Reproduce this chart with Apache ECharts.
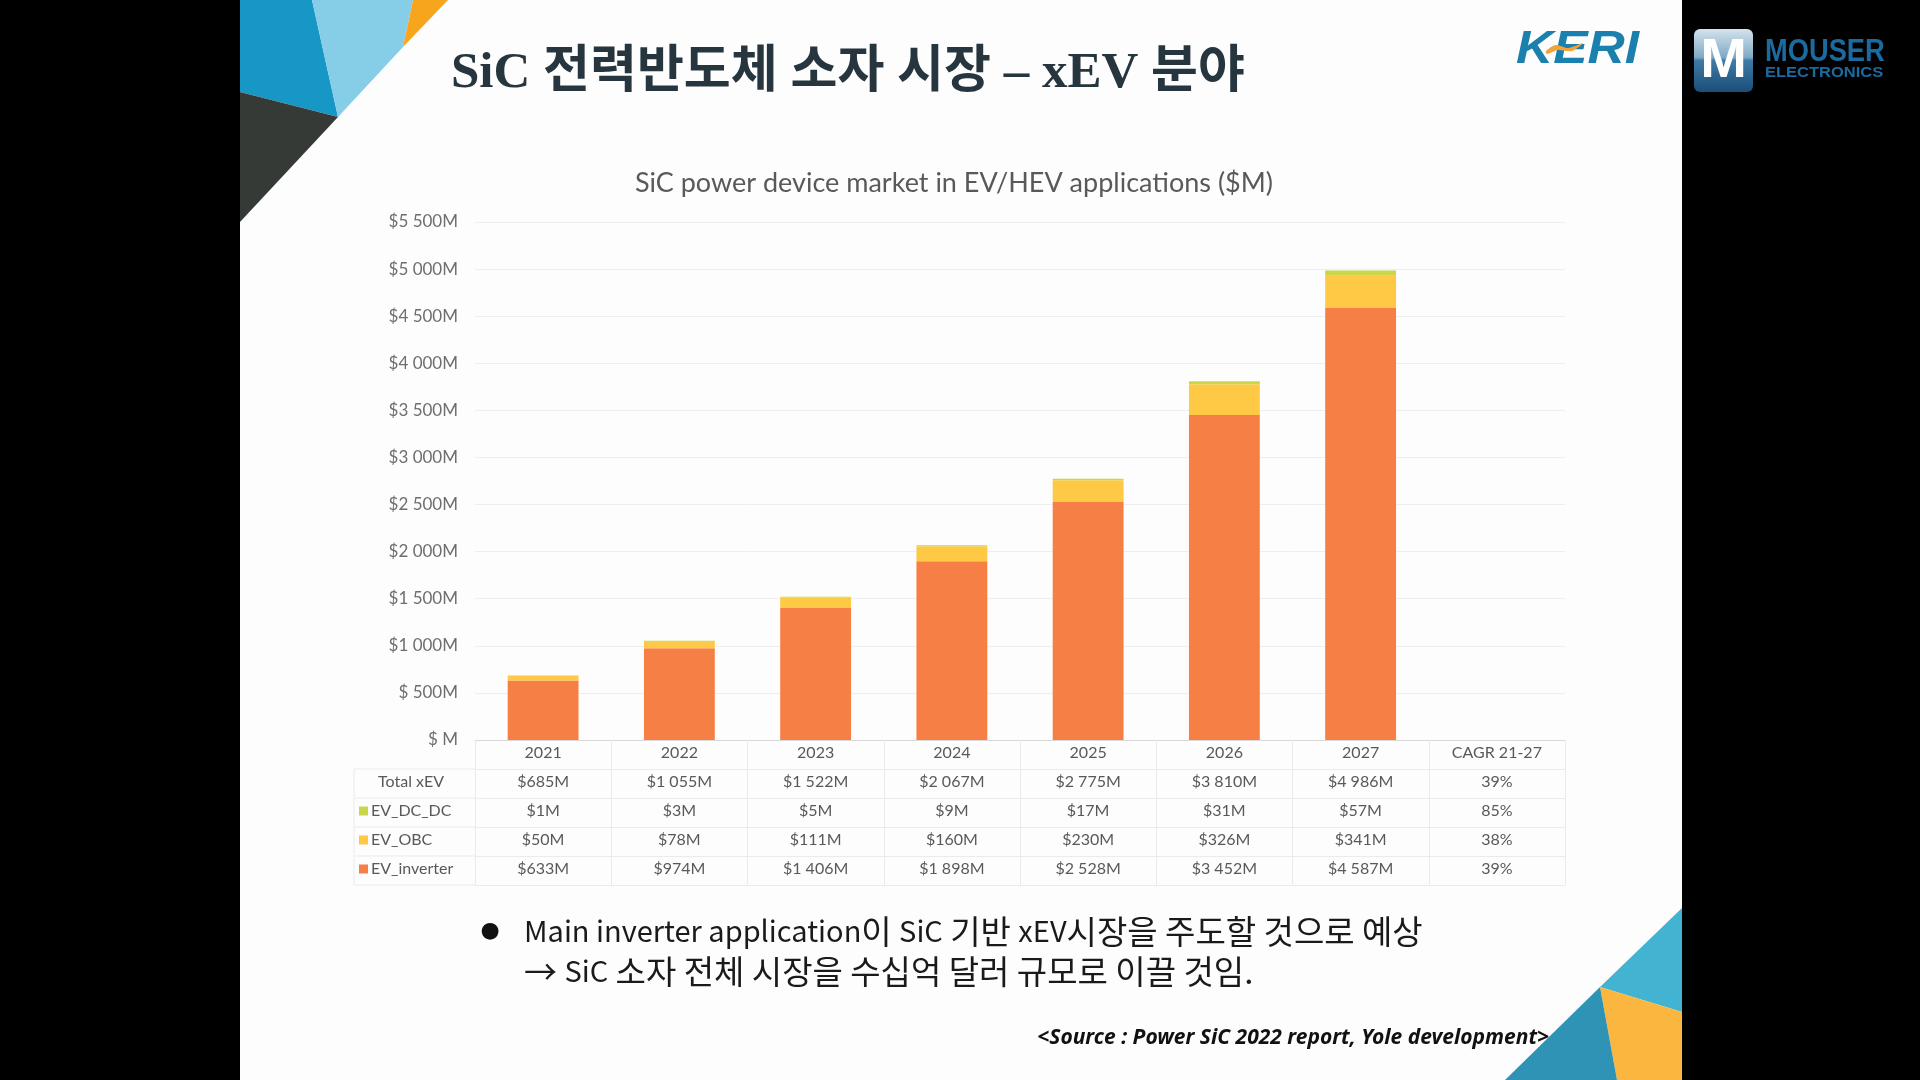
<!DOCTYPE html>
<html>
<head>
<meta charset="utf-8">
<script src="https://cdn.jsdelivr.net/npm/echarts@6/dist/echarts.min.js"></script>
<style>
html, body { margin: 0; padding: 0; background: #000; }
#slide { position: absolute; left: 240px; top: 0; width: 1442px; height: 1080px; background: #fdfdfd; }
#main { position: absolute; left: 0; top: 0; width: 1920px; height: 1080px; }
</style>
</head>
<body>
<div id="slide"></div>
<div id="main"></div>
<script>
// 데이터 (Yole, Power SiC 2022)
var years = ['2021', '2022', '2023', '2024', '2025', '2026', '2027'];
var cagrHeader = 'CAGR 21-27';
var totalXEV = [685, 1055, 1522, 2067, 2775, 3810, 4986];
var evDcDc = [1, 3, 5, 9, 17, 31, 57];
var evObc = [50, 78, 111, 160, 230, 326, 341];
var evInverter = [633, 974, 1406, 1898, 2528, 3452, 4587];
var cagrTotal = '39%';
var cagrDcDc = '85%';
var cagrObc = '38%';
var cagrInverter = '39%';
var yMax = 5500;
var yStep = 500;

var colorInverter = '#F67F46';
var colorObc = '#FFC845';
var colorDcDc = '#CAD64A';

var GRID_L = 475, GRID_R = 1565, GRID_T = 222, GRID_B = 740;
var ROW_H = 29;
var TABLE_L = 354;
var FONT = 'Lato';

function money(v) {
    if (v >= 1000) {
        return '$' + Math.floor(v / 1000) + ' ' + String(v % 1000).padStart(3, '0') + 'M';
    }
    return '$' + v + 'M';
}

var categories = years.concat([cagrHeader]);
var rows = [
    { name: 'Total xEV', values: totalXEV, cagr: cagrTotal, color: null },
    { name: 'EV_DC_DC', values: evDcDc, cagr: cagrDcDc, color: colorDcDc },
    { name: 'EV_OBC', values: evObc, cagr: cagrObc, color: colorObc },
    { name: 'EV_inverter', values: evInverter, cagr: cagrInverter, color: colorInverter }
];
var rowLabels = [categories].concat(rows.map(function (r) {
    return r.values.map(money).concat([r.cagr]);
}));

function pad(arr) { return arr.concat(['-']); }

// 표 형태의 x축 (행마다 하나씩)
var xAxes = [];
for (var k = 0; k <= rows.length + 1; k++) {
    var last = k === rows.length + 1;
    xAxes.push({
        type: 'category',
        data: categories,
        position: 'bottom',
        offset: k * ROW_H,
        axisLine: { show: true, lineStyle: { color: k === 0 ? '#d9d9d9' : '#ebebeb', width: 1 } },
        axisTick: { show: !last, length: ROW_H, interval: 0, lineStyle: { color: '#ebebeb' } },
        axisLabel: {
            show: !last, interval: 0, margin: 5,
            color: '#595959', fontSize: 16, fontFamily: FONT,
            formatter: (function (lbls) { return function (v, i) { return lbls[i]; }; })(rowLabels[last ? 0 : k])
        },
        splitLine: { show: false }
    });
}

// 왼쪽 행 제목 칸
var headerGraphics = [];
for (var r = 0; r < rows.length; r++) {
    var yTop = GRID_B + (r + 1) * ROW_H;
    headerGraphics.push({
        type: 'line',
        shape: { x1: TABLE_L, y1: yTop, x2: GRID_L, y2: yTop },
        style: { stroke: '#ebebeb', lineWidth: 1 }
    });
    var row = rows[r];
    if (row.color) {
        headerGraphics.push({
            type: 'rect',
            shape: { x: TABLE_L + 5, y: yTop + ROW_H / 2 - 6, width: 9, height: 9 },
            style: { fill: row.color }
        });
        headerGraphics.push({
            type: 'text',
            x: TABLE_L + 17, y: yTop + ROW_H / 2 - 2,
            style: {
                text: row.name, textVerticalAlign: 'middle',
                fontFamily: FONT, fontSize: 16, fill: '#595959'
            }
        });
    } else {
        headerGraphics.push({
            type: 'text',
            x: 411, y: yTop + ROW_H / 2 - 2,
            style: {
                text: row.name, textAlign: 'center', textVerticalAlign: 'middle',
                fontFamily: FONT, fontSize: 16, fill: '#595959'
            }
        });
    }
}
var tableBottom = GRID_B + (rows.length + 1) * ROW_H;
headerGraphics.push({
    type: 'line',
    shape: { x1: TABLE_L, y1: tableBottom, x2: GRID_L, y2: tableBottom },
    style: { stroke: '#ebebeb', lineWidth: 1 }
});
headerGraphics.push({
    type: 'line',
    shape: { x1: TABLE_L, y1: GRID_B + ROW_H, x2: TABLE_L, y2: tableBottom },
    style: { stroke: '#ebebeb', lineWidth: 1 }
});

var bodyRich = {
    l: { fontFamily: "'Noto Sans CJK KR'", fontSize: 29, color: '#1a1a1a', fill: '#1a1a1a' },
    k: { fontFamily: "'Noto Sans CJK KR'", fontSize: 33, color: '#1a1a1a', fill: '#1a1a1a' }
};

var decoGraphics = [
    // 좌상단 삼각형
    { type: 'polygon', shape: { points: [[240, 0], [312, 0], [338, 117], [240, 92]] }, style: { fill: '#1697c6' } },
    { type: 'polygon', shape: { points: [[312, 0], [413, 0], [403, 47], [338, 117]] }, style: { fill: '#86cde8' } },
    { type: 'polygon', shape: { points: [[413, 0], [448, 0], [403, 47]] }, style: { fill: '#f8a51e' } },
    { type: 'polygon', shape: { points: [[240, 92], [338, 117], [240, 222]] }, style: { fill: '#353a36' } },
    // 우하단 삼각형
    { type: 'polygon', shape: { points: [[1682, 908], [1600, 987], [1682, 1012]] }, style: { fill: '#43b3d2' } },
    { type: 'polygon', shape: { points: [[1600, 987], [1682, 1012], [1682, 1080], [1617, 1080]] }, style: { fill: '#fbb640' } },
    { type: 'polygon', shape: { points: [[1600, 987], [1617, 1080], [1505, 1080]] }, style: { fill: '#2f93b6' } },
    // 제목
    {
        type: 'text', x: 451, y: 74,
        style: {
            text: 'SiC 전력반도체 소자 시장 – xEV 분야',
            textVerticalAlign: 'middle',
            fontFamily: "'Liberation Serif', 'Noto Sans CJK KR'", fontWeight: 'bold', fontSize: 51, fill: '#27363e'
        }
    },
    // KERI 로고
    {
        type: 'text', x: 1516, y: 50, scaleX: 1.12,
        style: {
            text: 'KERI', textVerticalAlign: 'middle',
            fontFamily: 'Liberation Sans', fontStyle: 'italic', fontWeight: 'bold', fontSize: 46, fill: '#1b80ad'
        }
    },
    {
        type: 'polygon',
        shape: { points: [[1546, 51], [1556, 45], [1568, 48], [1583, 43], [1572, 51], [1558, 50], [1547, 54]], smooth: 0.3 },
        style: { fill: '#f2a23a' }
    },
    // Mouser 로고
    {
        type: 'rect', shape: { x: 1694, y: 29, width: 59, height: 63, r: 6 },
        style: {
            fill: {
                type: 'linear', x: 0, y: 0, x2: 0, y2: 1,
                colorStops: [
                    { offset: 0, color: '#d4e3ec' },
                    { offset: 0.45, color: '#7fa9c6' },
                    { offset: 0.5, color: '#3f7ba5' },
                    { offset: 1, color: '#1b4d78' }
                ]
            }
        }
    },
    {
        type: 'text', x: 1723.5, y: 62,
        style: {
            text: 'M', textAlign: 'center', textVerticalAlign: 'middle',
            fontFamily: 'Liberation Sans', fontWeight: 'bold', fontSize: 56, fill: '#ffffff'
        }
    },
    {
        type: 'text', x: 1765, y: 52, scaleX: 0.88,
        style: {
            text: 'MOUSER', textVerticalAlign: 'middle',
            fontFamily: 'Liberation Sans', fontWeight: 'bold', fontSize: 31, fill: '#1b6aa0'
        }
    },
    {
        type: 'text', x: 1765, y: 73, scaleX: 1.1,
        style: {
            text: 'ELECTRONICS', textVerticalAlign: 'middle',
            fontFamily: 'Liberation Sans', fontWeight: 'bold', fontSize: 15, fill: '#1b6aa0'
        }
    },
    // 본문
    {
        type: 'text', x: 490, y: 931,
        style: { text: '●', textAlign: 'center', textVerticalAlign: 'middle', fontSize: 22, fill: '#111', fontFamily: 'DejaVu Sans' }
    },
    {
        type: 'text', x: 524, y: 931,
        style: {
            text: '{l|Main inverter application}{k|이 }{l|SiC}{k| 기반 }{l|xEV}{k|시장을 주도할 것으로 예상}',
            textVerticalAlign: 'middle', rich: bodyRich
        }
    },
    {
        type: 'text', x: 524, y: 971,
        style: {
            text: '{k|→ }{l|SiC}{k| 소자 전체 시장을 수십억 달러 규모로 이끌 것임.}',
            textVerticalAlign: 'middle', rich: bodyRich
        }
    },
    {
        type: 'text', x: 1549, y: 1038,
        style: {
            text: '<Source : Power SiC 2022 report, Yole development>',
            textAlign: 'right', textVerticalAlign: 'middle',
            fontFamily: "'Noto Sans'", fontStyle: 'italic', fontWeight: 'bold', fontSize: 21, fill: '#111'
        }
    }
];

var myChart = echarts.init(document.getElementById('main'));

var option = {
    animation: false,
    title: {
        text: 'SiC power device market in EV/HEV applications ($M)',
        left: 949, top: 165, textAlign: 'center',
        textStyle: { fontFamily: FONT, fontSize: 27, fontWeight: 'normal', color: '#595959' }
    },
    grid: {
        left: GRID_L, right: 1920 - GRID_R, top: GRID_T, bottom: 1080 - GRID_B,
        containLabel: false, outerBoundsMode: 'none'
    },
    xAxis: xAxes,
    yAxis: {
        type: 'value', min: 0, max: yMax, interval: yStep,
        axisLine: { show: false }, axisTick: { show: false },
        splitLine: { lineStyle: { color: '#eeeeee' } },
        axisLabel: {
            margin: 17, color: '#6e6e6e', fontSize: 17, fontFamily: FONT,
            formatter: function (v) {
                if (v === 0) return '$ M';
                if (v < 1000) return '$ ' + v + 'M';
                return money(v);
            }
        }
    },
    series: [
        { name: 'EV_inverter', type: 'bar', stack: 'xev', barWidth: '52%', data: pad(evInverter), itemStyle: { color: colorInverter } },
        { name: 'EV_OBC', type: 'bar', stack: 'xev', data: pad(evObc), itemStyle: { color: colorObc } },
        { name: 'EV_DC_DC', type: 'bar', stack: 'xev', data: pad(evDcDc), itemStyle: { color: colorDcDc } }
    ],
    graphic: decoGraphics.concat(headerGraphics)
};

myChart.setOption(option);
</script>
</body>
</html>
